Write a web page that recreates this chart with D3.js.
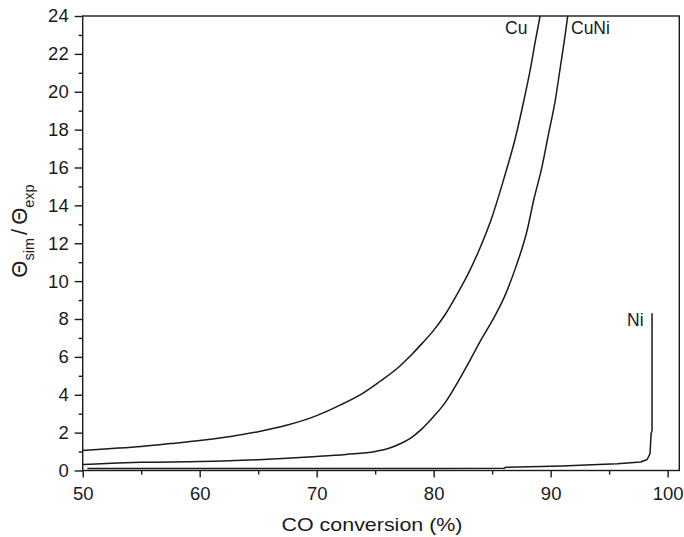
<!DOCTYPE html>
<html>
<head>
<meta charset="utf-8">
<script src="https://cdn.jsdelivr.net/npm/d3@7"></script>
<style>
  html, body { margin: 0; padding: 0; background: #fff; }
  svg { display: block; font-family: "Liberation Sans", Arial, sans-serif; }
</style>
</head>
<body>
<svg id="chart" width="684" height="537"></svg>
<script>
// CO conversion (%) vs. ratio of simulated to experimental coverage
const cuSeries = [
  [50, 1.06], [52.5, 1.16], [55, 1.27], [57.5, 1.42], [60, 1.58], [62.5, 1.78],
  [65, 2.05], [67.5, 2.4], [70, 2.9], [72, 3.45], [74, 4.1], [75.4, 4.7],
  [77, 5.45], [78, 6.05], [79, 6.7], [80, 7.4], [81, 8.25], [82, 9.3],
  [83, 10.45], [84, 11.8], [85, 13.4], [86, 15.4], [87, 17.6], [87.7, 19.5],
  [88.3, 21.3], [88.7, 22.7], [89.1, 24]
];
const cuNiSeries = [
  [50, 0.32], [52.5, 0.38], [55, 0.43], [60, 0.47], [65, 0.57], [70, 0.74],
  [72.5, 0.85], [75, 1.0], [76.3, 1.2], [77.1, 1.4], [78, 1.7], [79, 2.2],
  [80, 2.85], [81, 3.6], [82, 4.6], [83, 5.7], [84, 6.85], [85, 7.9],
  [86, 9.1], [87, 10.7], [88, 12.7], [88.55, 14.27], [89.26, 16.03],
  [89.83, 17.8], [90.4, 19.56], [90.83, 21.3], [91.26, 23.08], [91.46, 24]
];
const niSeries = [
  [50.4, 0.1], [60, 0.1], [70, 0.11], [80, 0.11], [86, 0.12], [86.2, 0.17],
  [91, 0.24], [93, 0.29], [95.7, 0.36], [97.7, 0.45], [98.25, 0.58],
  [98.5, 0.9], [98.59, 1.96], [98.67, 2.1], [98.67, 8.3]
];
const seriesNames = ["Cu", "CuNi", "Ni"];
const xMajorTicks = [50, 60, 70, 80, 90, 100];
const xMinorTicks = [55, 65, 75, 85, 95];
const yMajorTicks = [0, 2, 4, 6, 8, 10, 12, 14, 16, 18, 20, 22, 24];
const yMinorTicks = [1, 3, 5, 7, 9, 11, 13, 15, 17, 19, 21, 23];

const svg = d3.select("#chart");
const plot = { left: 82.7, right: 679.3, top: 16, bottom: 470.5 };

const x = d3.scaleLinear().domain([50, 101]).range([plot.left, plot.right]);
const y = d3.scaleLinear().domain([0, 24]).range([plot.bottom, plot.top]);

const ink = "#1a1a1a";

// frame
svg.append("rect")
  .attr("x", plot.left).attr("y", plot.top)
  .attr("width", plot.right - plot.left).attr("height", plot.bottom - plot.top)
  .attr("fill", "none").attr("stroke", ink).attr("stroke-width", 1.4);

function styleAxis(g) {
  g.select(".domain").remove();
  g.selectAll(".tick line").attr("stroke", ink).attr("stroke-width", 1.4);
  g.selectAll(".tick text").attr("fill", ink).attr("font-size", 18.5)
    .attr("font-family", "'Liberation Sans', Arial, sans-serif");
}

// x axis
svg.append("g").attr("transform", `translate(0,${plot.bottom})`)
  .call(d3.axisBottom(x).tickValues(xMajorTicks).tickSize(7).tickPadding(9.5).tickFormat(d3.format("d")))
  .call(styleAxis);
svg.append("g").attr("transform", `translate(0,${plot.bottom})`)
  .call(d3.axisBottom(x).tickValues(xMinorTicks).tickSize(4).tickFormat(""))
  .call(styleAxis);

// y axis
svg.append("g").attr("transform", `translate(${plot.left},0)`)
  .call(d3.axisLeft(y).tickValues(yMajorTicks).tickSize(8).tickPadding(6).tickFormat(d3.format("d")))
  .call(styleAxis);
svg.append("g").attr("transform", `translate(${plot.left},0)`)
  .call(d3.axisLeft(y).tickValues(yMinorTicks).tickSize(4).tickFormat(""))
  .call(styleAxis);

// curves
const smooth = d3.line().x(d => x(d[0])).y(d => y(d[1])).curve(d3.curveMonotoneX);
const straight = d3.line().x(d => x(d[0])).y(d => y(d[1]));

[[cuSeries, smooth], [cuNiSeries, smooth], [niSeries, straight]].forEach(([data, gen]) => {
  svg.append("path").datum(data)
    .attr("d", gen)
    .attr("fill", "none")
    .attr("stroke", ink)
    .attr("stroke-width", 1.5)
    .attr("stroke-linejoin", "round");
});

// series labels
const labelPos = [
  { name: seriesNames[0], x: 505, y: 34 },
  { name: seriesNames[1], x: 571, y: 34 },
  { name: seriesNames[2], x: 627, y: 326 }
];
svg.selectAll(".series-label").data(labelPos).enter().append("text")
  .attr("class", "series-label")
  .attr("x", d => d.x).attr("y", d => d.y)
  .attr("font-size", 17.5).attr("fill", ink)
  .text(d => d.name);

// axis titles
svg.append("text")
  .attr("x", 372).attr("y", 531)
  .attr("text-anchor", "middle")
  .attr("font-size", 18.6).attr("fill", ink)
  .attr("textLength", 181).attr("lengthAdjust", "spacingAndGlyphs")
  .text("CO conversion (%)");

const yTitle = svg.append("text")
  .attr("transform", "translate(27,231) rotate(-90)")
  .attr("text-anchor", "middle")
  .attr("font-size", 22).attr("fill", ink);
yTitle.append("tspan").text("Θ");
yTitle.append("tspan").attr("font-size", 14.5).attr("dy", 7).text("sim");
yTitle.append("tspan").attr("dy", -7).attr("dx", 3).text("/");
yTitle.append("tspan").attr("dx", 4).text("Θ");
yTitle.append("tspan").attr("font-size", 14.5).attr("dy", 7).text("exp");
</script>
</body>
</html>
